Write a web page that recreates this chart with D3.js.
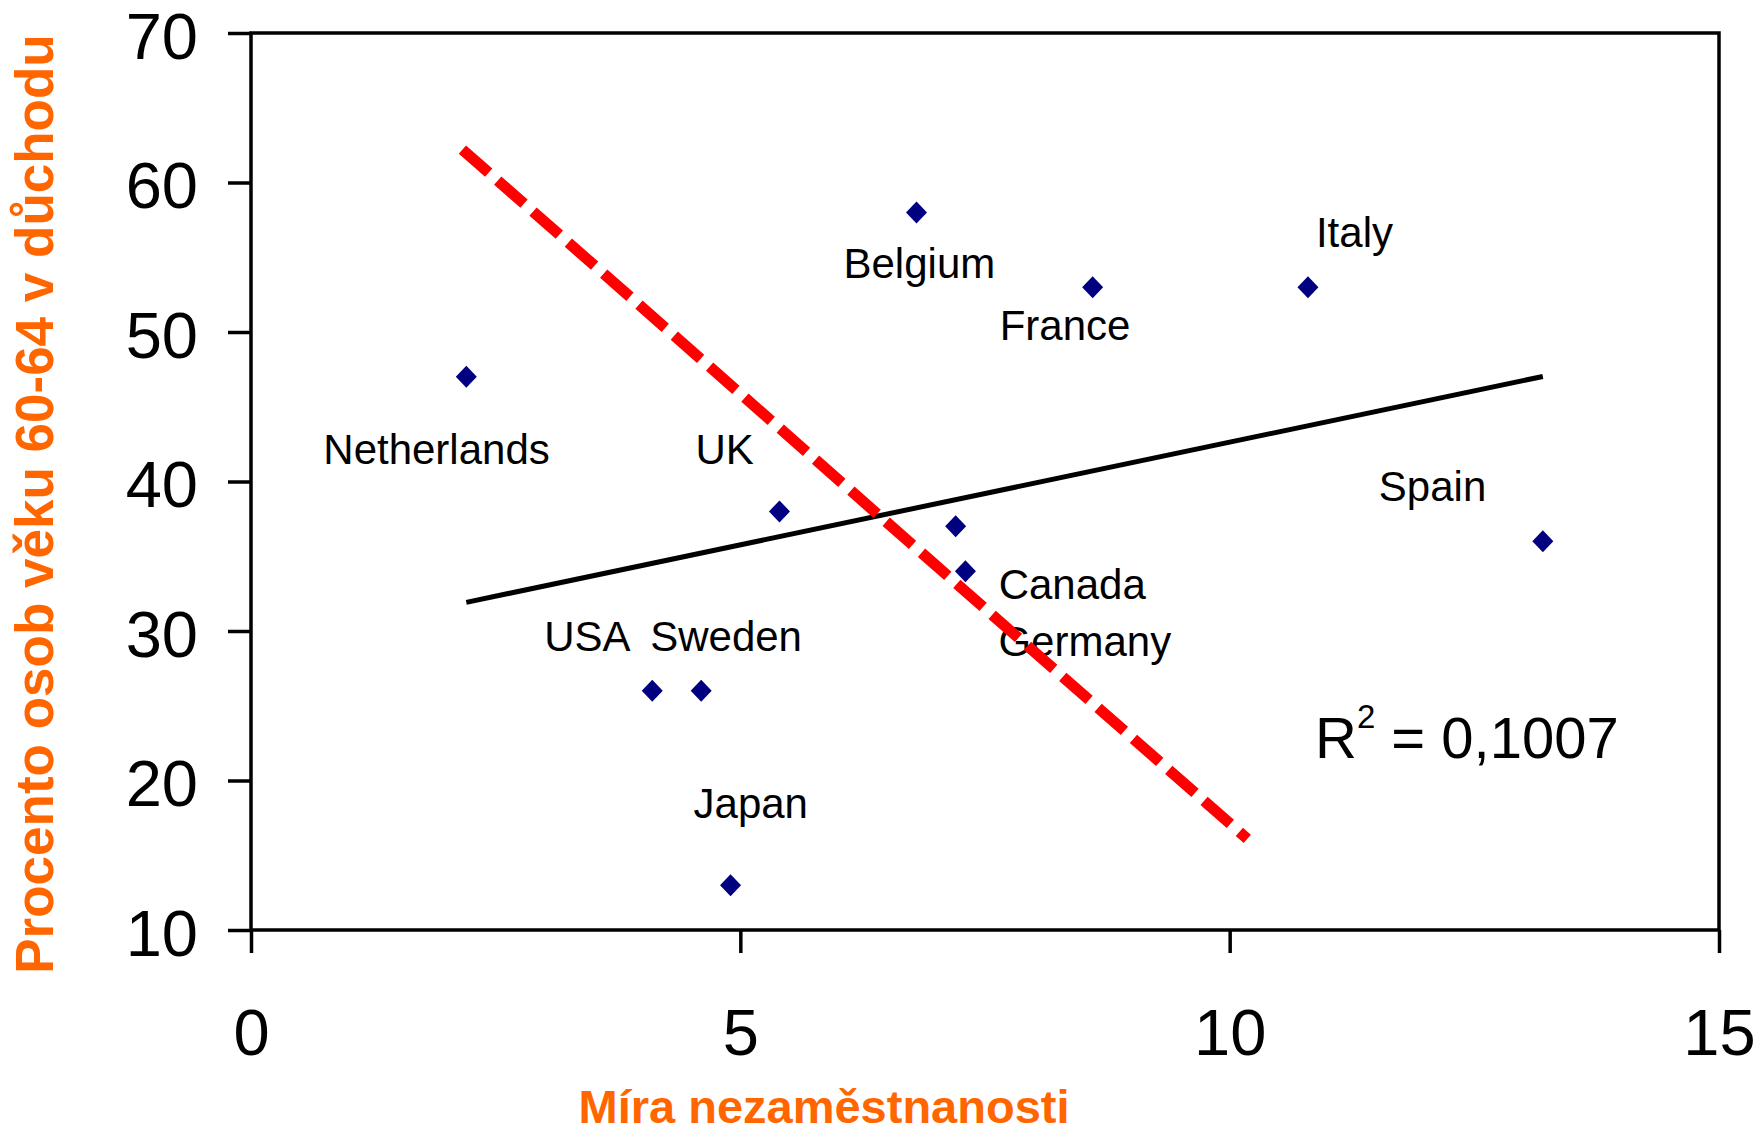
<!DOCTYPE html>
<html>
<head>
<meta charset="utf-8">
<script src="https://cdn.jsdelivr.net/npm/d3@7"></script>
<style>
  html, body { margin: 0; padding: 0; background: #fff; }
  svg { display: block; }
  text { font-family: "Liberation Sans", Arial, Helvetica, sans-serif; }
</style>
</head>
<body>
<svg id="chart" width="1758" height="1134"></svg>
<script>
// ---- Data ----
const countries = ["Netherlands", "UK", "Belgium", "France", "Italy", "Canada", "Germany", "Spain", "USA", "Sweden", "Japan"];
const unemployment = [2.2, 5.4, 6.8, 8.6, 10.8, 7.2, 7.3, 13.2, 4.1, 4.6, 4.9];
const retiredShare = [47, 38, 58, 53, 53, 37, 34, 36, 26, 26, 13];
const xTicks = [0, 5, 10, 15];
const yTicks = [10, 20, 30, 40, 50, 60, 70];
const redLineX = [2.16, 10.18];
const redLineY = [62.2, 16.1];
const r2Label = "0,1007";
const xTitle = "Míra nezaměstnanosti";
const yTitle = "Procento osob věku 60-64 v důchodu";

// ---- Layout (label offsets in px from the point) ----
const labelOffsets = {
  "Netherlands": [-143, 87],
  "UK": [-84, -47],
  "Belgium": [-73, 66],
  "France": [-93, 53],
  "Italy": [8, -40],
  "Canada": [43, 73],
  "Germany": [33, 85],
  "Spain": [-164, -40],
  "USA": [-108, -40],
  "Sweden": [-51, -40],
  "Japan": [-37, -67]
};

const svg = d3.select("#chart");
const x = d3.scaleLinear().domain([0, 15]).range([251, 1719]);
const y = d3.scaleLinear().domain([10, 70]).range([930, 33]);

// Frame
svg.append("rect")
  .attr("x", x(0)).attr("y", y(70))
  .attr("width", x(15) - x(0)).attr("height", y(10) - y(70))
  .attr("fill", "none").attr("stroke", "#000").attr("stroke-width", 3.5);

// Axes
const yAxis = svg.append("g").attr("transform", `translate(${x(0)},0)`)
  .call(d3.axisLeft(y).tickValues(yTicks).tickSize(23).tickPadding(30).tickFormat(d3.format("d")));
const xAxis = svg.append("g").attr("transform", `translate(0,${y(10)})`)
  .call(d3.axisBottom(x).tickValues(xTicks).tickSize(23).tickPadding(56).tickFormat(d3.format("d")));
[xAxis, yAxis].forEach(g => {
  g.select(".domain").remove();
  g.selectAll(".tick line").attr("stroke", "#000").attr("stroke-width", 3.5);
  g.selectAll(".tick text").attr("fill", "#000")
    .style("font-size", "65px")
    .style("font-family", '"Liberation Sans", Arial, sans-serif');
});
yAxis.selectAll(".tick text").attr("dy", "0.39em");

// Axis titles
svg.append("text")
  .attr("x", 824).attr("y", 1123)
  .attr("text-anchor", "middle")
  .attr("fill", "#FF6600").style("font-weight", "bold").style("font-size", "47px")
  .text(xTitle);
svg.append("text")
  .attr("transform", "translate(53,504) rotate(-90)")
  .attr("text-anchor", "middle")
  .attr("fill", "#FF6600").style("font-weight", "bold").style("font-size", "53px")
  .text(yTitle);

// Regression (least squares) trendline
const n = unemployment.length;
const mx = d3.mean(unemployment), my = d3.mean(retiredShare);
let sxy = 0, sxx = 0;
for (let i = 0; i < n; i++) {
  sxy += (unemployment[i] - mx) * (retiredShare[i] - my);
  sxx += (unemployment[i] - mx) ** 2;
}
const slope = sxy / sxx, intercept = my - slope * mx;
const [xmin, xmax] = d3.extent(unemployment);
svg.append("line")
  .attr("x1", x(xmin)).attr("y1", y(intercept + slope * xmin))
  .attr("x2", x(xmax)).attr("y2", y(intercept + slope * xmax))
  .attr("stroke", "#000").attr("stroke-width", 5);

// Points
const pts = countries.map((c, i) => ({ name: c, ux: unemployment[i], r: retiredShare[i] }));
svg.append("g").selectAll("path").data(pts).enter().append("path")
  .attr("d", d => {
    const cx = x(d.ux), cy = y(d.r);
    return `M${cx},${cy - 11}L${cx + 10.5},${cy}L${cx},${cy + 11}L${cx - 10.5},${cy}Z`;
  })
  .attr("fill", "#000080");

// Labels
svg.append("g").selectAll("text").data(pts).enter().append("text")
  .attr("x", d => x(d.ux) + labelOffsets[d.name][0])
  .attr("y", d => y(d.r) + labelOffsets[d.name][1])
  .attr("fill", "#000").style("font-size", "42px")
  .text(d => d.name);

// Red dashed line
svg.append("line")
  .attr("x1", x(redLineX[0])).attr("y1", y(redLineY[0]))
  .attr("x2", x(redLineX[1])).attr("y2", y(redLineY[1]))
  .attr("stroke", "#FF0000").attr("stroke-width", 11)
  .attr("stroke-dasharray", "35 12");

// R^2 label
const r2 = svg.append("text").attr("x", 1315).attr("y", 758)
  .attr("fill", "#000").style("font-size", "58px");
r2.append("tspan").text("R");
r2.append("tspan").attr("dy", -30).style("font-size", "33px").text("2");
r2.append("tspan").attr("dy", 30).text(" = " + r2Label);
</script>
</body>
</html>
